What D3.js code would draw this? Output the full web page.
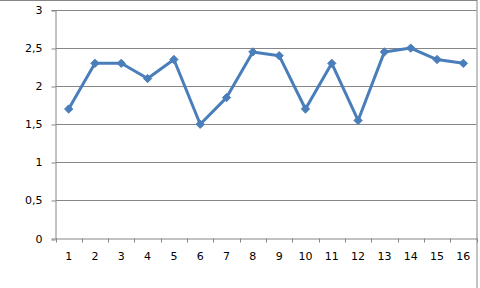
<!DOCTYPE html>
<html>
<head>
<meta charset="utf-8">
<script src="https://cdn.jsdelivr.net/npm/d3@7"></script>
<style>
  body { margin: 0; background: #fff; }
  svg { display: block; }
</style>
</head>
<body>
<script>
const width = 480;
const height = 288;

// データ
const categories = ["1","2","3","4","5","6","7","8","9","10","11","12","13","14","15","16"];
const values = [1.7, 2.3, 2.3, 2.1, 2.35, 1.5, 1.85, 2.45, 2.4, 1.7, 2.3, 1.55, 2.45, 2.5, 2.35, 2.3];
const yTicks = [0, 0.5, 1, 1.5, 2, 2.5, 3];

const plot = { left: 55.5, right: 476.5, top: 10, bottom: 238.5 };

const svg = d3.select("body")
    .append("svg")
    .attr("width", width)
    .attr("height", height);

// 外枠
svg.append("rect")
    .attr("x", -5)
    .attr("y", 0.5)
    .attr("width", 482)
    .attr("height", 300)
    .attr("fill", "none")
    .attr("stroke", "#868686");

const x = d3.scaleBand()
    .domain(categories)
    .range([plot.left, plot.right]);

const y = d3.scaleLinear()
    .domain([0, 3])
    .range([plot.bottom, plot.top]);

const fmt = d => String(d).replace(".", ",");

// グリッド線
svg.append("g")
    .selectAll("line")
    .data(yTicks.filter(d => d > 0))
    .enter()
    .append("line")
    .attr("x1", plot.left)
    .attr("x2", plot.right)
    .attr("y1", d => Math.round(y(d)) + 0.5)
    .attr("y2", d => Math.round(y(d)) + 0.5)
    .attr("stroke", "#868686")
    .attr("stroke-width", 1);

// Y軸
const yAxis = svg.append("g")
    .attr("transform", `translate(${plot.left},0)`)
    .call(d3.axisLeft(y).tickValues(yTicks).tickFormat(fmt).tickSize(4).tickPadding(9))
    .attr("font-family", "Tahoma, 'DejaVu Sans', sans-serif")
    .attr("font-size", 11);
yAxis.selectAll(".tick line").attr("stroke", "#868686").attr("transform", d => `translate(0,${Math.round(y(d)) + 0.5 - y(d)})`);
yAxis.select(".domain").attr("stroke", "#868686");
yAxis.selectAll("text").attr("fill", "#000");

// X軸
const xAxis = svg.append("g")
    .attr("transform", `translate(0,${plot.bottom})`)
    .call(d3.axisBottom(x).tickSize(0).tickPadding(14))
    .attr("font-family", "Tahoma, 'DejaVu Sans', sans-serif")
    .attr("font-size", 11);
xAxis.select(".domain").attr("stroke", "#868686");
xAxis.selectAll("text").attr("fill", "#000");

// カテゴリ間の目盛り
svg.append("g")
    .selectAll("line")
    .data(categories.concat(["end"]))
    .enter()
    .append("line")
    .attr("x1", (d, i) => Math.round(plot.left + i * x.step()) + 0.5)
    .attr("x2", (d, i) => Math.round(plot.left + i * x.step()) + 0.5)
    .attr("y1", plot.bottom)
    .attr("y2", plot.bottom + 4)
    .attr("stroke", "#868686");

// 折れ線
const line = d3.line()
    .x((d, i) => x(categories[i]) + x.bandwidth() / 2)
    .y(d => y(d));

svg.append("path")
    .datum(values)
    .attr("d", line)
    .attr("fill", "none")
    .attr("stroke", "#4A7EBB")
    .attr("stroke-width", 3)
    .attr("stroke-linejoin", "round");

// マーカー(ひし形)
svg.append("g")
    .selectAll("path")
    .data(values)
    .enter()
    .append("path")
    .attr("d", d3.symbol().type(d3.symbolDiamond2).size(44))
    .attr("transform", (d, i) => `translate(${x(categories[i]) + x.bandwidth() / 2},${y(d)})`)
    .attr("fill", "#4A7EBB")
    .attr("stroke", "#4A7EBB")
    .attr("stroke-width", 1);
</script>
</body>
</html>
